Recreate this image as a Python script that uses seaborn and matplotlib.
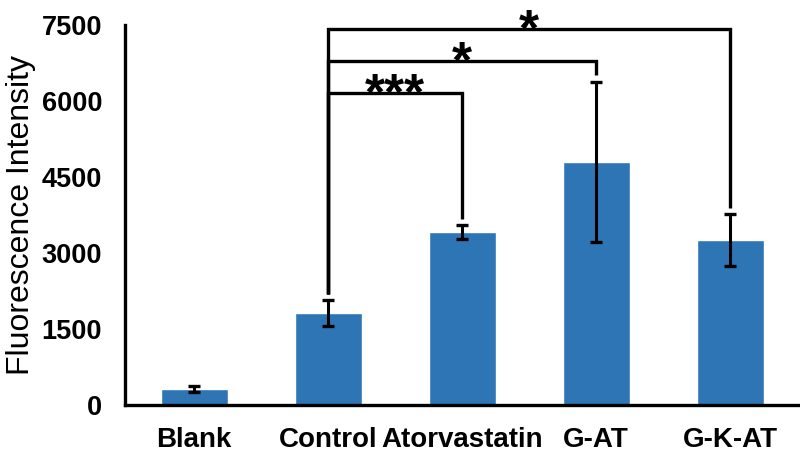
import numpy as np
import pandas as pd
import matplotlib
matplotlib.use("Agg")
import matplotlib.pyplot as plt
import seaborn as sns

categories = ["Blank", "Control", "Atorvastatin", "G-AT", "G-K-AT"]
means = [310, 1810, 3410, 4800, 3260]
errs = [60, 255, 140, 1580, 508]
yticks = [0, 1500, 3000, 4500, 6000, 7500]

# significance brackets: (from index, to index, height, label)
brackets = [
    (1, 2, 6164, "***"),
    (1, 3, 6789, "*"),
    (1, 4, 7421, "*"),
]
bracket_gap = 130

sns.set_theme(style="white")
plt.rcParams["font.family"] = ["Liberation Sans", "DejaVu Sans"]

df = pd.DataFrame({"group": categories, "value": means})

fig = plt.figure(figsize=(8, 4.55), dpi=100)
ax = fig.add_axes([125 / 800, 50 / 455, 673 / 800, 380 / 455])

sns.barplot(data=df, x="group", y="value", color="#2E75B6", saturation=1,
            width=0.5, errorbar=None, ax=ax)

pos = np.arange(len(categories))
ax.errorbar(pos, means, yerr=errs, fmt="none", ecolor="black",
            elinewidth=2.2, capsize=4.5, capthick=2.4, zorder=3)

ax.set_ylim(yticks[0], yticks[-1])
ax.set_xlim(-0.515, 4.507)
ax.set_yticks(yticks)
ax.set_yticklabels([str(t) for t in yticks])

for s in ["top", "right"]:
    ax.spines[s].set_visible(False)
for s in ["left", "bottom"]:
    ax.spines[s].set_linewidth(2.4)
    ax.spines[s].set_color("black")

ax.tick_params(axis="y", direction="out", length=6, width=2.2, pad=10.5,
               labelsize=19.5, colors="black")
ax.tick_params(axis="x", direction="in", length=4, width=2.2, pad=16,
               labelsize=20, colors="black")
for lab in ax.get_xticklabels() + ax.get_yticklabels():
    lab.set_fontweight("bold")

ax.set_xlabel("")
ax.set_ylabel("Fluorescence Intensity", fontsize=23, labelpad=4, color="black")

left_bottom = means[1] + errs[1] + bracket_gap
for i, j, h, lab in brackets:
    jb = means[j] + errs[j] + bracket_gap
    ax.plot([i, i, j, j], [left_bottom, h, h, jb], color="black", lw=2.4,
            solid_joinstyle="miter", solid_capstyle="butt", zorder=4,
            clip_on=False)
    ax.annotate(lab, xy=((i + j) / 2, h), xytext=(0, -12), textcoords="offset points",
                ha="center", va="baseline", fontsize=37, fontweight="bold",
                color="black", annotation_clip=False)

fig.savefig("out.png", dpi=100)
